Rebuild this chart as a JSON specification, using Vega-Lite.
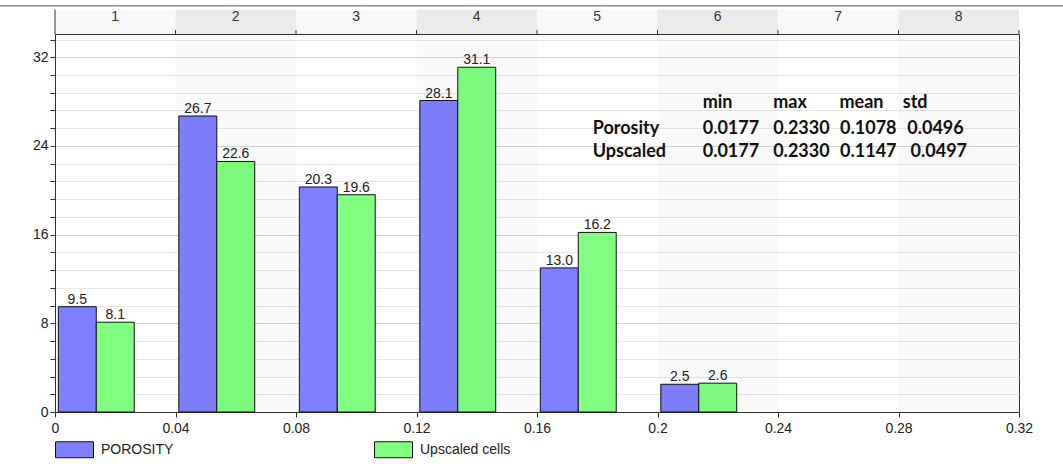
{
  "$schema": "https://vega.github.io/schema/vega-lite/v6.json",
  "width": 964,
  "height": 378,
  "autosize": {"type": "none"},
  "padding": {"left": 55, "top": 34, "right": 44, "bottom": 52},
  "background": "white",
  "view": {"stroke": "#333333", "strokeWidth": 1},
  "config": {
    "font": "Liberation Sans",
    "axis": {"labelFont": "Liberation Sans", "labelFontSize": 14, "labelColor": "#222222", "domainColor": "#333333", "tickColor": "#333333"},
    "legend": {"labelFont": "Liberation Sans", "labelFontSize": 14, "labelColor": "#222222"}
  },
  "datasets": {
    "hist": [
      {"lo": 0.0, "series": "POROSITY", "pct": 9.5},
      {"lo": 0.0, "series": "Upscaled cells", "pct": 8.1},
      {"lo": 0.04, "series": "POROSITY", "pct": 26.7},
      {"lo": 0.04, "series": "Upscaled cells", "pct": 22.6},
      {"lo": 0.08, "series": "POROSITY", "pct": 20.3},
      {"lo": 0.08, "series": "Upscaled cells", "pct": 19.6},
      {"lo": 0.12, "series": "POROSITY", "pct": 28.1},
      {"lo": 0.12, "series": "Upscaled cells", "pct": 31.1},
      {"lo": 0.16, "series": "POROSITY", "pct": 13.0},
      {"lo": 0.16, "series": "Upscaled cells", "pct": 16.2},
      {"lo": 0.2, "series": "POROSITY", "pct": 2.5},
      {"lo": 0.2, "series": "Upscaled cells", "pct": 2.6}
    ],
    "bins": [
      {"n": 1, "lo": 0.0, "hi": 0.04},
      {"n": 2, "lo": 0.04, "hi": 0.08},
      {"n": 3, "lo": 0.08, "hi": 0.12},
      {"n": 4, "lo": 0.12, "hi": 0.16},
      {"n": 5, "lo": 0.16, "hi": 0.2},
      {"n": 6, "lo": 0.2, "hi": 0.24},
      {"n": 7, "lo": 0.24, "hi": 0.28},
      {"n": 8, "lo": 0.28, "hi": 0.32}
    ],
    "stats": [
      {"t": "min", "px": 0.2150, "py": 27.44},
      {"t": "max", "px": 0.2384, "py": 27.44},
      {"t": "mean", "px": 0.2604, "py": 27.44},
      {"t": "std", "px": 0.2814, "py": 27.44},
      {"t": "Porosity", "px": 0.1785, "py": 25.09},
      {"t": "0.0177", "px": 0.2150, "py": 25.09},
      {"t": "0.2330", "px": 0.2384, "py": 25.09},
      {"t": "0.1078", "px": 0.2606, "py": 25.09},
      {"t": "0.0496", "px": 0.2829, "py": 25.09},
      {"t": "Upscaled", "px": 0.1785, "py": 23.01},
      {"t": "0.0177", "px": 0.2150, "py": 23.01},
      {"t": "0.2330", "px": 0.2384, "py": 23.01},
      {"t": "0.1147", "px": 0.2606, "py": 23.01},
      {"t": "0.0497", "px": 0.2840, "py": 23.01}
    ]
  },
  "layer": [
    {
      "data": {"name": "hist"},
      "transform": [
        {"calculate": "datum.lo + (datum.series == 'POROSITY' ? 0.0011 : 0.0137)", "as": "x0"},
        {"calculate": "datum.x0 + 0.0126", "as": "x1"}
      ],
      "mark": {"type": "rect", "stroke": "#111111", "strokeWidth": 1},
      "encoding": {
        "x": {"field": "x0", "type": "quantitative", "scale": {"domain": [0, 0.32], "nice": false, "zero": false},
          "axis": {"title": null, "values": [0, 0.04, 0.08, 0.12, 0.16, 0.2, 0.24, 0.28, 0.32], "tickCount": 50, "format": "~g", "tickSize": 5, "labelPadding": 4, "grid": false, "labelFlush": false, "labelOverlap": false}},
        "x2": {"field": "x1"},
        "y": {"field": "pct", "type": "quantitative", "scale": {"domain": [0, 34.1], "nice": false, "zero": false},
          "axis": {"title": null, "values": [0, 0.8, 1.6, 2.4, 3.2, 4, 4.8, 5.6, 6.4, 7.2, 8, 8.8, 9.6, 10.4, 11.2, 12, 12.8, 13.6, 14.4, 15.2, 16, 16.8, 17.6, 18.4, 19.2, 20, 20.8, 21.6, 22.4, 23.2, 24, 24.8, 25.6, 26.4, 27.2, 28, 28.8, 29.6, 30.4, 31.2, 32, 32.8, 33.6],
            "tickCount": 100,
            "format": "d",
            "labelExpr": "datum.value % 4 == 0 ? datum.label : ''",
            "tickSize": 5, "labelPadding": 2, "grid": true,
            "gridColor": {"condition": {"test": "datum.value % 4 == 0", "value": "#d6d6d6"}, "value": "#e8e8e8"},
            "labelOverlap": false, "labelFlush": false}},
        "y2": {"datum": 0},
        "fill": {"field": "series", "type": "nominal",
          "scale": {"domain": ["POROSITY", "Upscaled cells"], "range": ["#8080ff", "#80ff80"]},
          "legend": {"orient": "none", "legendX": 0, "legendY": 396, "direction": "horizontal", "title": null,
            "symbolType": "M-1,-0.42H1V0.42H-1Z", "symbolSize": 1444, "symbolStrokeColor": "#111111", "symbolStrokeWidth": 1, "symbolOpacity": 1,
            "labelOffset": 7, "columnPadding": 198, "padding": 0, "labelFontSize": 14}}
      }
    },
    {
      "data": {"name": "bins"},
      "transform": [{"filter": "datum.n % 2 == 0"}],
      "mark": {"type": "rect", "fill": "#000000", "fillOpacity": 0.025},
      "encoding": {
        "x": {"field": "lo", "type": "quantitative"},
        "x2": {"field": "hi"},
        "y": {"datum": 0, "type": "quantitative"},
        "y2": {"datum": 34.1}
      }
    },
    {
      "data": {"name": "bins"},
      "mark": {"type": "rect"},
      "encoding": {
        "x": {"field": "lo", "type": "quantitative"},
        "x2": {"field": "hi"},
        "y": {"datum": 34.1, "type": "quantitative"},
        "y2": {"datum": 36.3},
        "fill": {"condition": {"test": "datum.n % 2 == 0", "value": "#ebebeb"}, "value": "#f8f8f8"}
      }
    },
    {
      "data": {"name": "bins"},
      "mark": {"type": "rule", "color": "#333333", "strokeWidth": 1},
      "encoding": {
        "x": {"field": "hi", "type": "quantitative"},
        "y": {"datum": 34.1, "type": "quantitative"},
        "y2": {"datum": 34.46}
      }
    },
    {
      "data": {"name": "bins"},
      "transform": [{"calculate": "(datum.lo + datum.hi) / 2", "as": "mid"}],
      "mark": {"type": "text", "fontSize": 14, "color": "#333333", "baseline": "middle", "align": "center", "font": "Liberation Sans"},
      "encoding": {
        "x": {"field": "mid", "type": "quantitative"},
        "y": {"datum": 35.6, "type": "quantitative"},
        "text": {"field": "n", "type": "nominal"}
      }
    },
    {
      "data": {"values": [{}]},
      "mark": {"type": "rule", "color": "#333333", "strokeWidth": 1},
      "encoding": {
        "x": {"datum": 0, "type": "quantitative"},
        "y": {"datum": 34.1, "type": "quantitative"},
        "y2": {"datum": 36.3}
      }
    },
    {
      "data": {"values": [{}]},
      "mark": {"type": "rule", "color": "#8c8c8c", "strokeWidth": 1.5},
      "encoding": {
        "x": {"datum": -0.0183, "type": "quantitative"},
        "x2": {"datum": 0.3346},
        "y": {"datum": 36.64, "type": "quantitative"}
      }
    },
    {
      "data": {"name": "hist"},
      "transform": [
        {"calculate": "datum.lo + (datum.series == 'POROSITY' ? 0.0011 : 0.0137) + 0.0063", "as": "xm"}
      ],
      "mark": {"type": "text", "fontSize": 14, "color": "#222222", "baseline": "alphabetic", "align": "center", "dy": -3, "font": "Liberation Sans"},
      "encoding": {
        "x": {"field": "xm", "type": "quantitative"},
        "y": {"field": "pct", "type": "quantitative"},
        "text": {"field": "pct", "type": "quantitative", "format": ".1f"}
      }
    },
    {
      "data": {"name": "stats"},
      "mark": {"type": "text", "font": "Lato", "fontWeight": "bold", "fontSize": 18, "color": "#111111", "align": "left", "baseline": "alphabetic"},
      "encoding": {
        "x": {"field": "px", "type": "quantitative"},
        "y": {"field": "py", "type": "quantitative"},
        "text": {"field": "t", "type": "nominal"}
      }
    }
  ]
}
